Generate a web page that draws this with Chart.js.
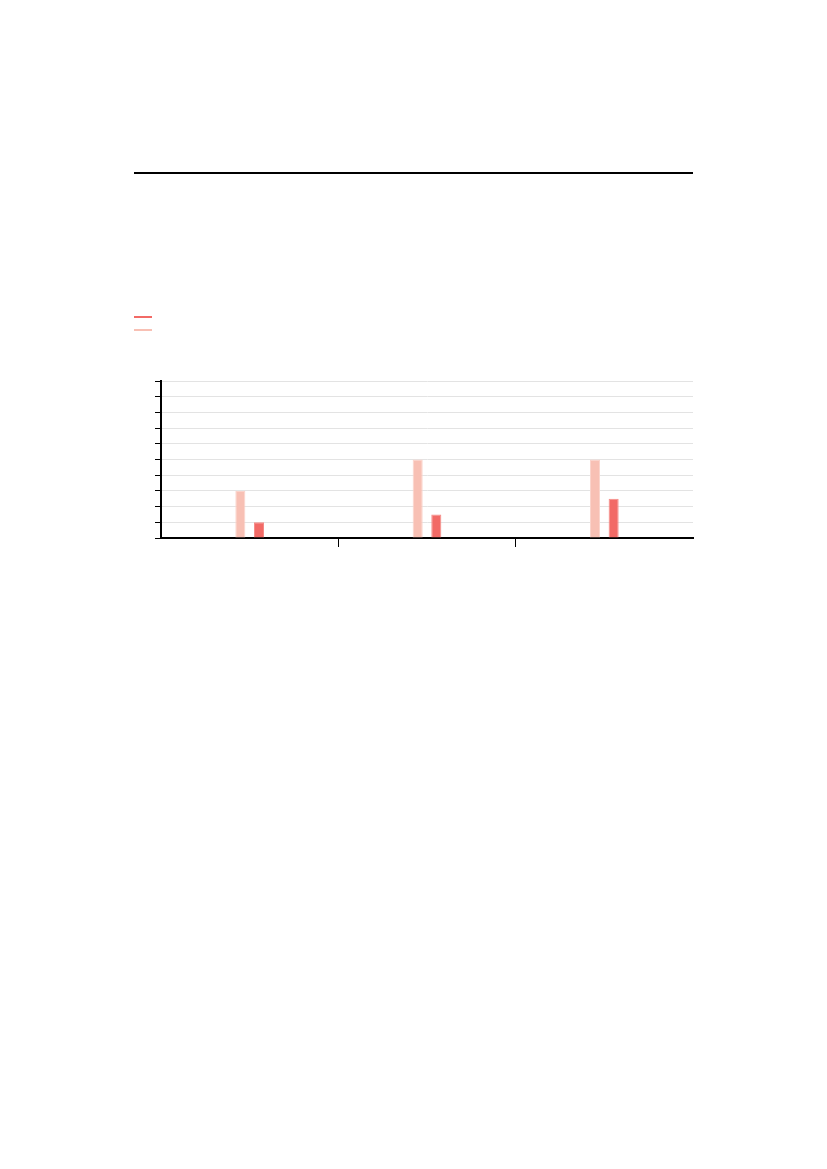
<!DOCTYPE html>
<html>
<head>
<meta charset="utf-8">
<script src="https://cdn.jsdelivr.net/npm/chart.js@4"></script>
<style>
  body { margin: 0; background: #fff; width: 827px; height: 1169px; position: relative; font-family: "DejaVu Sans", sans-serif; }
  .rule { position: absolute; left: 134px; top: 172px; width: 559px; border-top: 2px solid #000; }
  #legend { position: absolute; left: 134px; top: 310px; }
  #legend div { width: 18px; height: 2px; margin: 6px 0 11px 0; }
  .wrap { position: absolute; left: 149px; top: 376px; width: 548px; height: 171px; }
</style>
</head>
<body>
<div class="rule"></div>
<div id="legend"></div>
<div class="wrap"><canvas id="chart"></canvas></div>
<script>
const categories = ['', '', '']
const lightValues = [3, 5, 5]
const darkValues = [1, 1.5, 2.5]
const seriesNames = ['', '']
const lightColor = '#F8C0B4'
const darkColor = '#F26A66'

const datasets = [{
  label: seriesNames[0],
  data: lightValues,
  backgroundColor: lightColor,
  borderColor: '#FBD3CB',
  borderWidth: 1,
  categoryPercentage: 0.21,
  barPercentage: 0.54
},
{
  label: seriesNames[1],
  data: darkValues,
  backgroundColor: darkColor,
  borderColor: '#F58A86',
  borderWidth: 1,
  categoryPercentage: 0.21,
  barPercentage: 0.54
}]

// legend: dark first, then light
const legend = document.querySelector('#legend')
datasets.slice().reverse().forEach(ds => {
  const item = document.createElement('div')
  item.style.background = ds.backgroundColor
  item.title = ds.label
  legend.appendChild(item)
})

const ctx = document.querySelector('#chart')

new Chart(ctx, {
  type: 'bar',
  data: {
    labels: categories,
    datasets: datasets
  },
  options: {
    responsive: true,
    maintainAspectRatio: false,
    animation: false,
    layout: { padding: { top: 5, right: 4, left: 6, bottom: 0 } },
    plugins: {
      legend: { display: false },
      tooltip: { enabled: false }
    },
    scales: {
      x: {
        offset: true,
        grid: {
          offset: true,
          drawOnChartArea: false,
          tickLength: 9,
          tickWidth: 1,
          tickColor: c => (c.index > 0 && c.index < categories.length) ? '#000' : 'rgba(0,0,0,0)'
        },
        border: { display: true, color: '#000', width: 2 },
        ticks: { display: false }
      },
      y: {
        min: 0,
        max: 10,
        ticks: { display: false, stepSize: 1 },
        grid: {
          color: '#e3e3e3',
          lineWidth: 1,
          tickColor: '#000',
          tickLength: 6
        },
        border: { display: true, color: '#000', width: 2 }
      }
    }
  }
})
</script>
</body>
</html>
